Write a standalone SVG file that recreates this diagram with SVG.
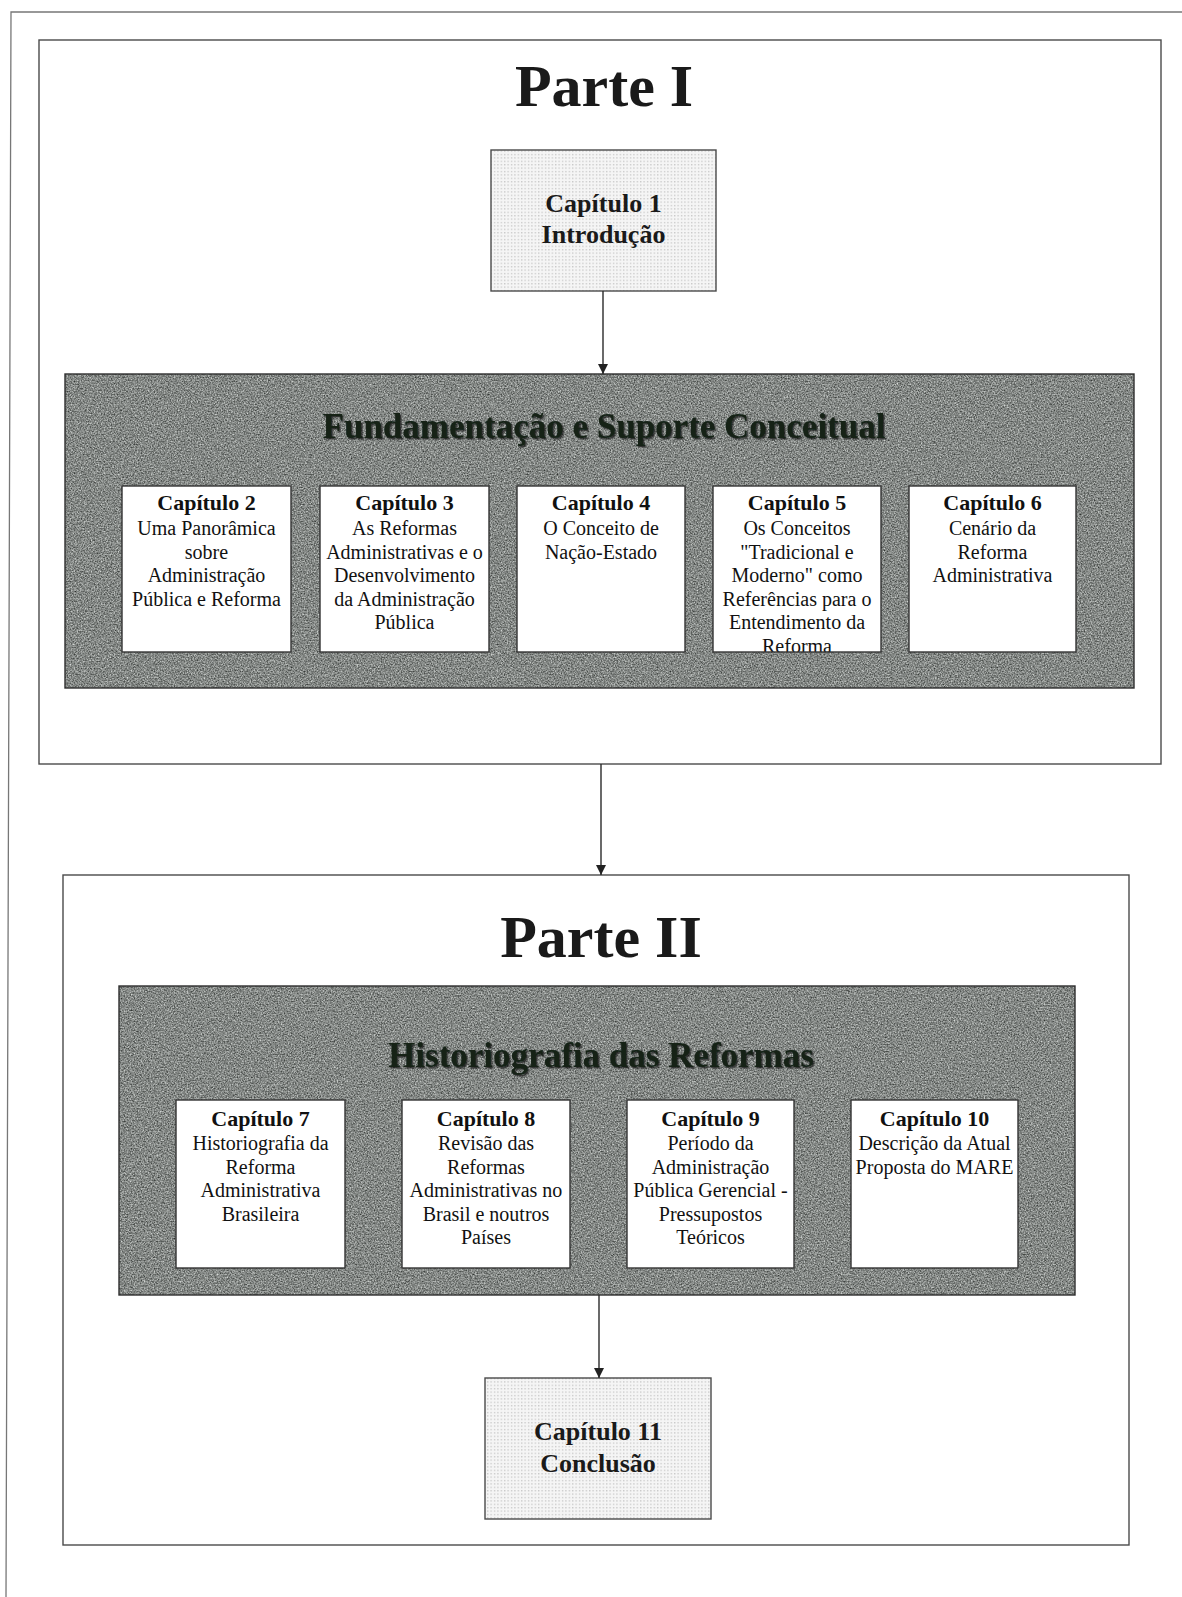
<svg xmlns="http://www.w3.org/2000/svg" width="1182" height="1597" viewBox="0 0 1182 1597">
<defs>
<style>
.frame{fill:#fff;stroke:#4a4a4a;stroke-width:1.4}
.panel{stroke:#2e2e2e;stroke-width:1.4}
.chap{fill:#fff;stroke:#333;stroke-width:1.4}
.dot{fill:url(#dots);stroke:#4a4a4a;stroke-width:1.4}
.big{font-family:"Liberation Serif","Times New Roman",serif;font-weight:bold;font-size:60px;fill:#1a1a1a;text-anchor:middle}
.ptitle{font-family:"Liberation Serif","Times New Roman",serif;font-weight:bold;font-size:35px;fill:#142218;text-anchor:middle}
.c1{font-family:"Liberation Serif","Times New Roman",serif;font-weight:bold;font-size:26px;fill:#1a1a1a;text-anchor:middle}
.ct{font-family:"Liberation Serif","Times New Roman",serif;font-weight:bold;font-size:22px;fill:#111;text-anchor:middle}
.cb{font-family:"Liberation Serif","Times New Roman",serif;font-size:20px;fill:#111;text-anchor:middle}
.conn{stroke:#2a2a2a;stroke-width:1.4;fill:none;marker-end:url(#arr)}
</style>
<pattern id="dots" width="3.4" height="3.4" patternUnits="userSpaceOnUse">
<rect width="3.4" height="3.4" fill="#f5f5f5"/>
<rect x="1" y="1" width="1.1" height="1.1" fill="#b4b4b4"/>
</pattern>
<filter id="grain" x="0" y="0" width="100%" height="100%" color-interpolation-filters="sRGB">
<feTurbulence type="fractalNoise" baseFrequency="0.7" numOctaves="3" seed="7" result="n"/>
<feColorMatrix in="n" type="matrix" values="0.8 0 0 0 0.115  0.8 0 0 0 0.13  0.8 0 0 0 0.12  0 0 0 0 1"/>
</filter>
<filter id="shadow" x="-5%" y="-20%" width="110%" height="140%">
<feDropShadow dx="1.5" dy="1.5" stdDeviation="0.6" flood-color="#0a0f0a" flood-opacity="0.7"/>
</filter>
<marker id="arr" markerUnits="userSpaceOnUse" markerWidth="11" markerHeight="11" refX="10" refY="5" orient="auto">
<path d="M0,0 L10,5 L0,10 Z" fill="#222"/>
</marker>
<clipPath id="clip5"><rect x="713" y="486" width="168" height="166"/></clipPath>
</defs>
<rect width="1182" height="1597" fill="#fff"/>
<path d="M1182,12 L11,12 L6,1597" fill="none" stroke="#777" stroke-width="1.3"/>

<g id="parte1">
<rect class="frame" x="39" y="40" width="1122" height="724"/>
<text class="big" x="604" y="106">Parte I</text>
</g>

<g id="cap1">
<rect class="dot" x="491" y="150" width="225" height="141"/>
<text class="c1" x="603.5" y="212">Capítulo 1</text>
<text class="c1" x="603.5" y="243">Introdução</text>
</g>

<g id="fundamentacao">
<rect x="65" y="374" width="1069" height="314" filter="url(#grain)" fill="#777"/>
<rect class="panel" x="65" y="374" width="1069" height="314" fill="none"/>
<text class="ptitle" x="604" y="438" filter="url(#shadow)">Fundamentação e Suporte Conceitual</text>
</g>

<g id="cap2">
<rect class="chap" x="122" y="486" width="169" height="166"/>
<text class="ct" x="206.5" y="510">Capítulo 2</text>
<text class="cb" x="206.5" y="535">Uma Panorâmica</text>
<text class="cb" x="206.5" y="558.5">sobre</text>
<text class="cb" x="206.5" y="582">Administração</text>
<text class="cb" x="206.5" y="605.5">Pública e Reforma</text>
</g>

<g id="cap3">
<rect class="chap" x="320" y="486" width="169" height="166"/>
<text class="ct" x="404.5" y="510">Capítulo 3</text>
<text class="cb" x="404.5" y="535">As Reformas</text>
<text class="cb" x="404.5" y="558.5">Administrativas e o</text>
<text class="cb" x="404.5" y="582">Desenvolvimento</text>
<text class="cb" x="404.5" y="605.5">da Administração</text>
<text class="cb" x="404.5" y="629">Pública</text>
</g>

<g id="cap4">
<rect class="chap" x="517" y="486" width="168" height="166"/>
<text class="ct" x="601" y="510">Capítulo 4</text>
<text class="cb" x="601" y="535">O Conceito de</text>
<text class="cb" x="601" y="558.5">Nação-Estado</text>
</g>

<g id="cap5">
<rect x="713" y="486" width="168" height="166" fill="#fff"/>
<g clip-path="url(#clip5)">
<text class="ct" x="797" y="510">Capítulo 5</text>
<text class="cb" x="797" y="535">Os Conceitos</text>
<text class="cb" x="797" y="558.5">"Tradicional e</text>
<text class="cb" x="797" y="582">Moderno" como</text>
<text class="cb" x="797" y="605.5">Referências para o</text>
<text class="cb" x="797" y="629">Entendimento da</text>
<text class="cb" x="797" y="653">Reforma</text>
</g>
<rect x="713" y="486" width="168" height="166" fill="none" stroke="#333" stroke-width="1.4"/>
</g>

<g id="cap6">
<rect class="chap" x="909" y="486" width="167" height="166"/>
<text class="ct" x="992.5" y="510">Capítulo 6</text>
<text class="cb" x="992.5" y="535">Cenário da</text>
<text class="cb" x="992.5" y="558.5">Reforma</text>
<text class="cb" x="992.5" y="582">Administrativa</text>
</g>

<g id="parte2">
<rect class="frame" x="63" y="875" width="1066" height="670"/>
<text class="big" x="601" y="957">Parte II</text>
</g>

<g id="historiografia">
<rect x="119" y="986" width="956" height="309" filter="url(#grain)" fill="#777"/>
<rect class="panel" x="119" y="986" width="956" height="309" fill="none"/>
<text class="ptitle" x="601" y="1067" filter="url(#shadow)">Historiografia das Reformas</text>
</g>

<g id="cap7">
<rect class="chap" x="176" y="1100" width="169" height="168"/>
<text class="ct" x="260.5" y="1126">Capítulo 7</text>
<text class="cb" x="260.5" y="1150">Historiografia da</text>
<text class="cb" x="260.5" y="1173.5">Reforma</text>
<text class="cb" x="260.5" y="1197">Administrativa</text>
<text class="cb" x="260.5" y="1220.5">Brasileira</text>
</g>

<g id="cap8">
<rect class="chap" x="402" y="1100" width="168" height="168"/>
<text class="ct" x="486" y="1126">Capítulo 8</text>
<text class="cb" x="486" y="1150">Revisão das</text>
<text class="cb" x="486" y="1173.5">Reformas</text>
<text class="cb" x="486" y="1197">Administrativas no</text>
<text class="cb" x="486" y="1220.5">Brasil e noutros</text>
<text class="cb" x="486" y="1244">Países</text>
</g>

<g id="cap9">
<rect class="chap" x="627" y="1100" width="167" height="168"/>
<text class="ct" x="710.5" y="1126">Capítulo 9</text>
<text class="cb" x="710.5" y="1150">Período da</text>
<text class="cb" x="710.5" y="1173.5">Administração</text>
<text class="cb" x="710.5" y="1197">Pública Gerencial -</text>
<text class="cb" x="710.5" y="1220.5">Pressupostos</text>
<text class="cb" x="710.5" y="1244">Teóricos</text>
</g>

<g id="cap10">
<rect class="chap" x="851" y="1100" width="167" height="168"/>
<text class="ct" x="934.5" y="1126">Capítulo 10</text>
<text class="cb" x="934.5" y="1150">Descrição da Atual</text>
<text class="cb" x="934.5" y="1173.5">Proposta do MARE</text>
</g>

<g id="cap11">
<rect class="dot" x="485" y="1378" width="226" height="141"/>
<text class="c1" x="598" y="1440">Capítulo 11</text>
<text class="c1" x="598" y="1472">Conclusão</text>
</g>

<g id="connectors">
<line class="conn" x1="603" y1="291" x2="603" y2="374"/>
<line class="conn" x1="601" y1="764" x2="601" y2="875"/>
<line class="conn" x1="599" y1="1295" x2="599" y2="1378"/>
</g>
</svg>
